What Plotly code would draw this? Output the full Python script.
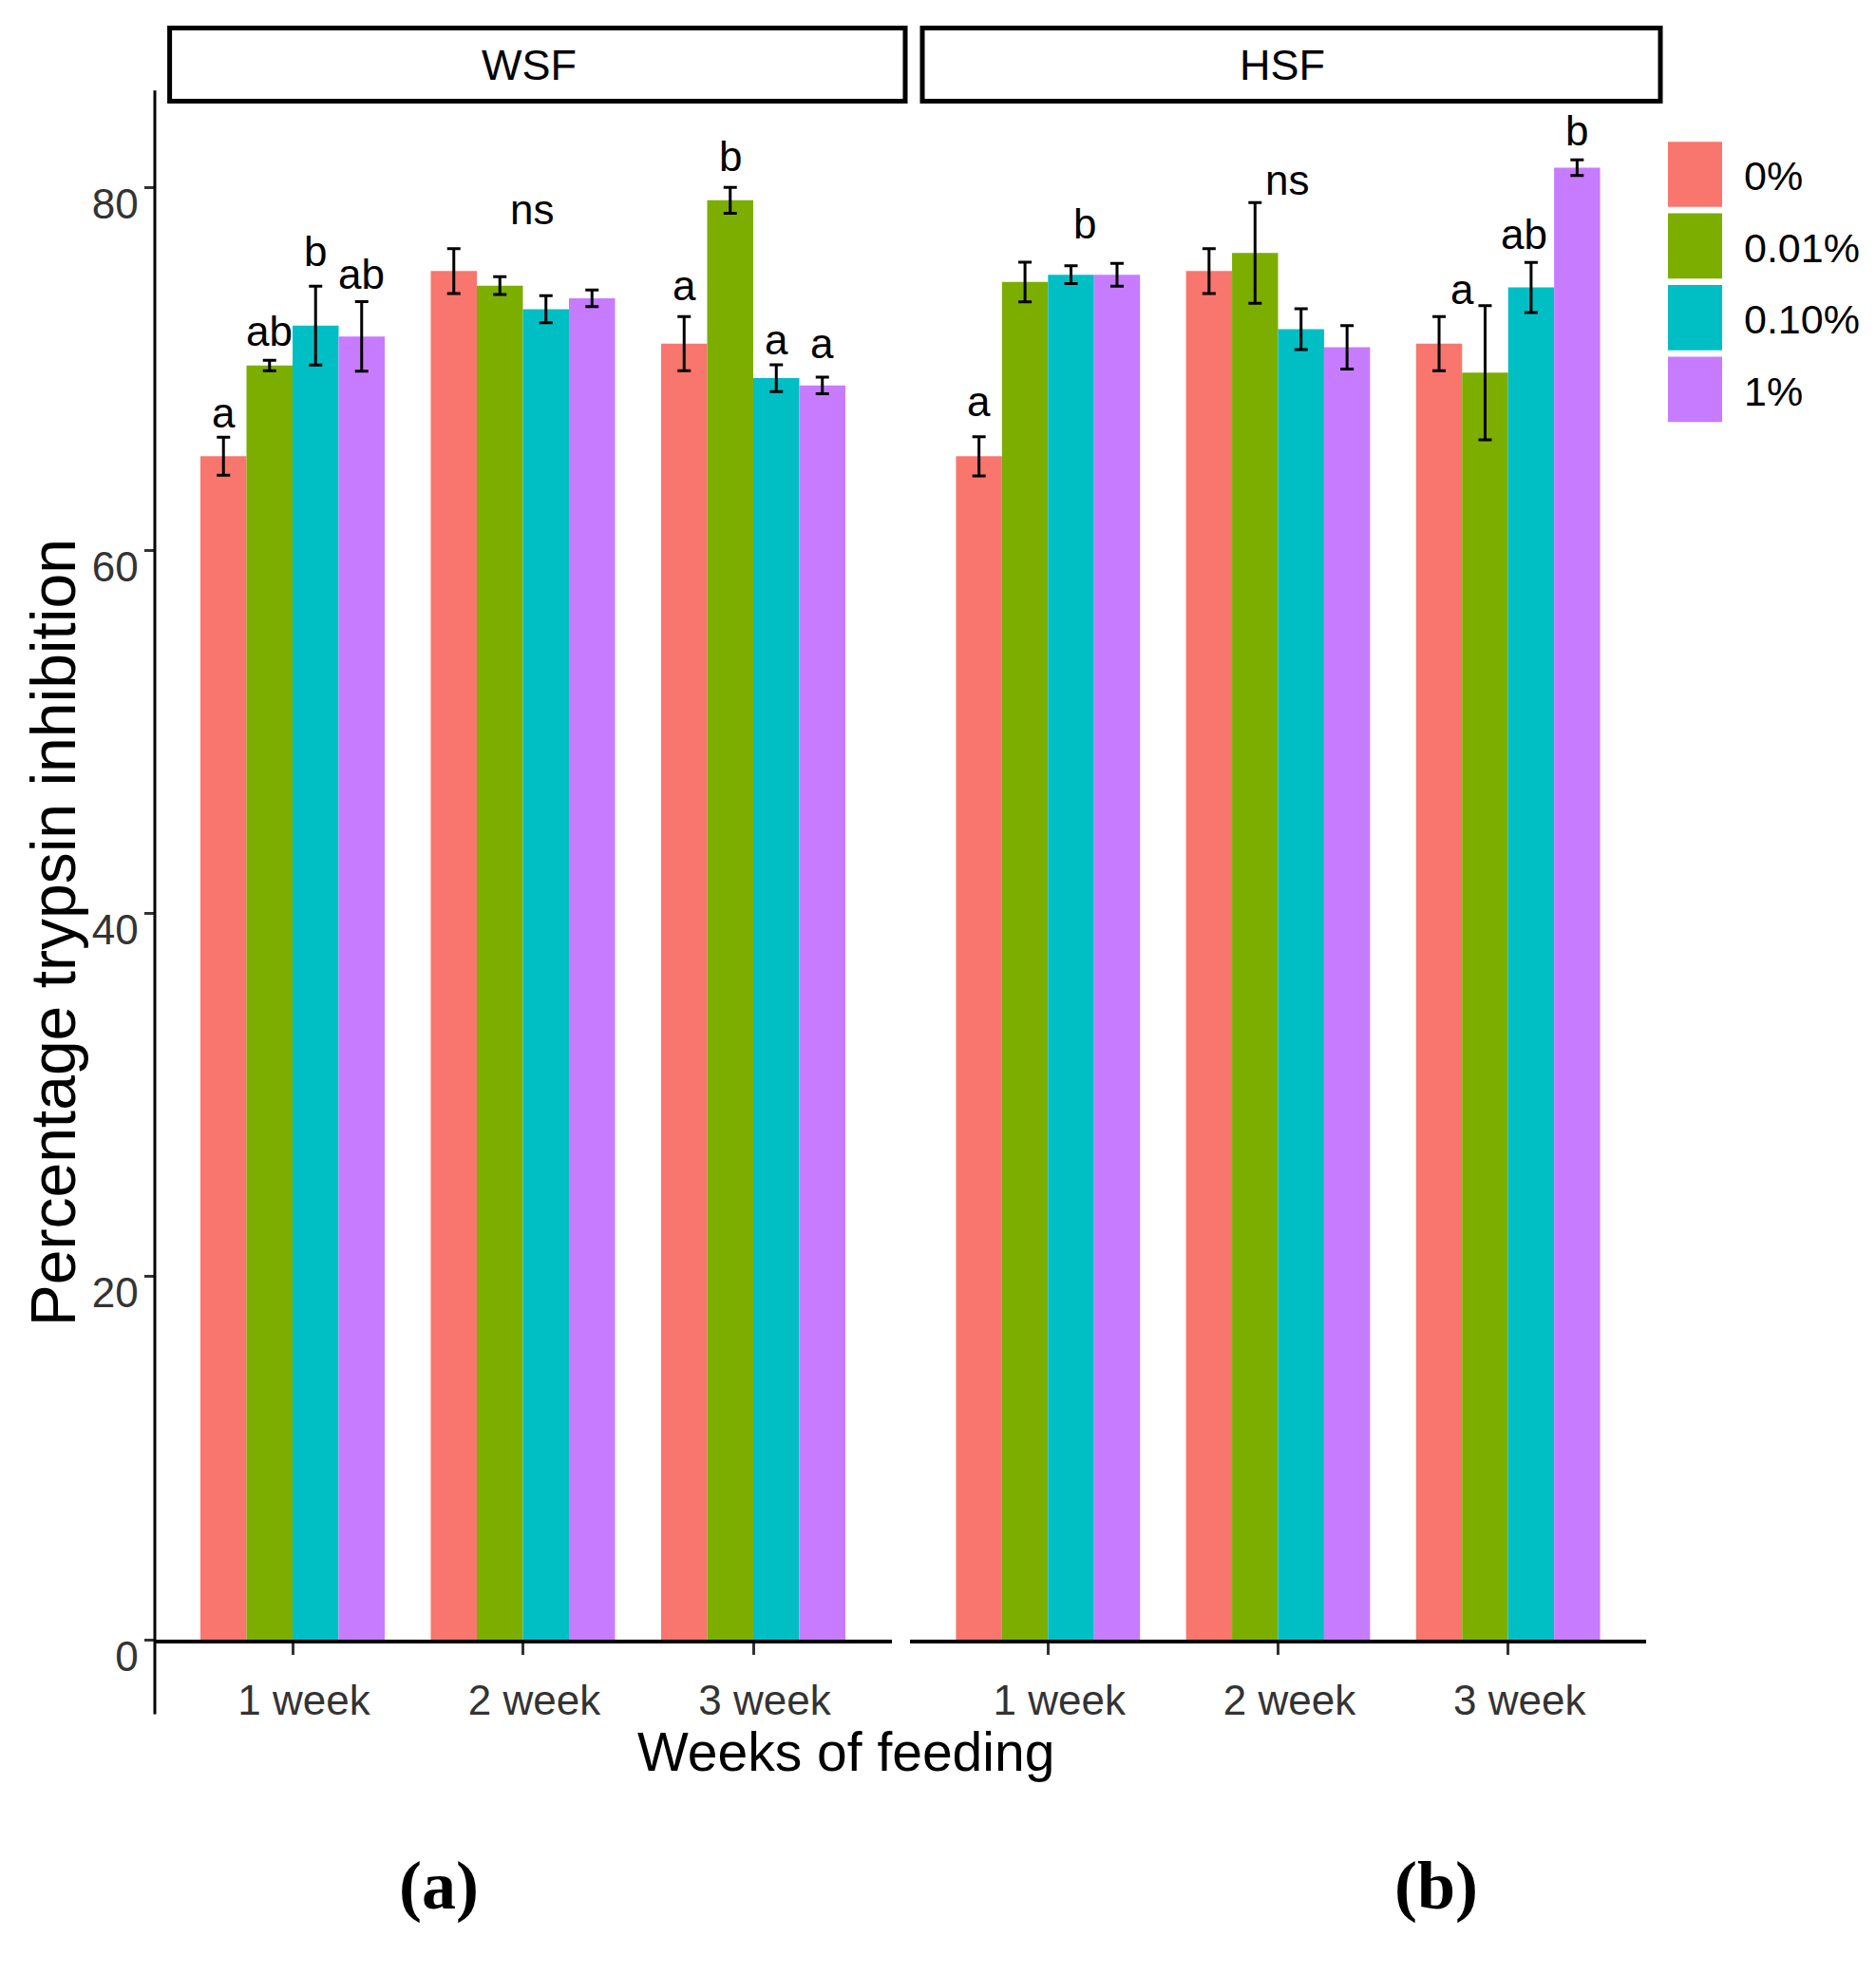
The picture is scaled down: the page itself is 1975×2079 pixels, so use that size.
import plotly.graph_objects as go

# data
weeks = ["1 week", "2 week", "3 week"]
doses = ["0%", "0.01%", "0.10%", "1%"]
colors = ["#F8766D", "#7CAE00", "#00BFC4", "#C77CFF"]

# mean trypsin inhibition, one list per dose (1, 2, 3 week)
wsf_mean = [[65.2, 75.4, 71.4], [70.2, 74.6, 79.3], [72.4, 73.3, 69.5], [71.8, 73.9, 69.1]]
wsf_err = [[1.05, 1.24, 1.49], [0.29, 0.49, 0.71], [2.17, 0.74, 0.74], [1.92, 0.46, 0.46]]
hsf_mean = [[65.2, 75.4, 71.4], [74.8, 76.4, 69.8], [75.2, 72.2, 74.5], [75.2, 71.2, 81.1]]
hsf_err = [[1.08, 1.24, 1.49], [1.09, 2.77, 3.7], [0.49, 1.12, 1.38], [0.63, 1.2, 0.43]]

# significance letters: (week, dose slot, text, height)
wsf_letters = [(1, 0, "a", 66.7), (1, 1, "ab", 71.2), (1, 2, "b", 75.6), (1, 3, "ab", 74.3),
               (2, 1.7, "ns", 77.9),
               (3, 0, "a", 73.7), (3, 1, "b", 80.8), (3, 2, "a", 70.7), (3, 3, "a", 70.5)]
hsf_letters = [(1, 0, "a", 67.3), (1, 2.3, "b", 77.1),
               (2, 1.7, "ns", 79.5),
               (3, 0.5, "a", 73.5), (3, 1.85, "ab", 76.5), (3, 3, "b", 82.2)]

# page body has an 8px margin, so the figure is a bit smaller and shifted
PAD = 8
W, H = 1975 - 2 * PAD, 2079 - 2 * PAD
SANS = "Liberation Sans, Arial, sans-serif"
BW = 0.2


def px(v):
    return (v - PAD) / W


def py(v):
    return 1 - (v - PAD) / H


fig = go.Figure()

for means, errs, xa, ya in [(wsf_mean, wsf_err, "x", "y"), (hsf_mean, hsf_err, "x2", "y2")]:
    for i, d in enumerate(doses):
        xs = [k + 1 + (i - 1.5) * BW for k in range(len(weeks))]
        fig.add_trace(go.Bar(
            x=xs, y=means[i], width=BW, name=d, marker_color=colors[i],
            marker_line_width=0, showlegend=False, xaxis=xa, yaxis=ya,
            error_y=dict(type="data", array=errs[i], color="black",
                         thickness=3, width=7),
        ))

for letters, xr, yr in [(wsf_letters, "x", "y"), (hsf_letters, "x2", "y2")]:
    for wk, slot, txt, yv in letters:
        fig.add_annotation(x=wk + (slot - 1.5) * BW, y=yv, xref=xr, yref=yr,
                           text=txt, showarrow=False, xanchor="center", yanchor="bottom",
                           yshift=-9, font=dict(family=SANS, size=44, color="black"))

xcommon = dict(range=[0.4, 3.6], tickvals=[1, 2, 3], ticktext=weeks,
               showline=True, linecolor="black", linewidth=4,
               ticks="outside", ticklen=12, tickwidth=2.5, tickcolor="#333333",
               ticklabelstandoff=10, ticklabelshift=12,
               tickfont=dict(family=SANS, size=44, color="#333333"),
               showgrid=False, zeroline=False, fixedrange=True)

fig.update_layout(
    width=W, height=H,
    margin=dict(l=0, r=0, t=0, b=0),
    plot_bgcolor="white", paper_bgcolor="white",
    showlegend=False, barmode="overlay",
    xaxis=dict(domain=[px(162.5), px(938.5)], anchor="y", **xcommon),
    xaxis2=dict(domain=[px(958), px(1733)], anchor="y2", **xcommon),
    yaxis=dict(domain=[py(1761), py(97)], range=[0, 85.35], anchor="x",
               tickvals=[0, 20, 40, 60, 80], ticks="outside", ticklen=10,
               tickwidth=2.5, tickcolor="#333333", showline=False,
               ticklabelshift=17, ticklabelstandoff=-3,
               tickfont=dict(family=SANS, size=44, color="#333333"),
               showgrid=False, zeroline=False),
    yaxis2=dict(domain=[py(1761), py(97)], range=[0, 85.35], anchor="x2",
                matches="y", showticklabels=False, ticks="", showline=False,
                showgrid=False, zeroline=False),
)

# y axis line, running a little below zero as in the figure
fig.add_shape(type="line", xref="paper", yref="paper",
              x0=px(163), x1=px(163), y0=py(1841), y1=py(97),
              line=dict(color="black", width=3))

# facet strips
for label, x0, x1, xc in [("WSF", 178.6, 953, 557), ("HSF", 971, 1748, 1350)]:
    fig.add_shape(type="rect", xref="paper", yref="paper",
                  x0=px(x0), x1=px(x1), y0=py(108.5), y1=py(30),
                  line=dict(color="black", width=5), fillcolor="white")
    fig.add_annotation(x=px(xc), y=py(70), xref="paper", yref="paper", text=label,
                       showarrow=False, xanchor="center", yanchor="middle",
                       font=dict(family=SANS, size=45, color="black"))

# legend drawn by hand to get the large ggplot keys
for i, d in enumerate(doses):
    top = 152 + i * 77
    fig.add_shape(type="rect", xref="paper", yref="paper",
                  x0=px(1756), x1=px(1813), y0=py(top + 70), y1=py(top),
                  line_width=0, fillcolor=colors[i])
    fig.add_annotation(x=px(1834), y=py(top + 37), xref="paper", yref="paper",
                       text=d, showarrow=False, xanchor="left", yanchor="middle",
                       font=dict(family=SANS, size=43, color="black"))

# axis titles and panel tags
fig.add_annotation(x=px(890), y=py(1881), xref="paper", yref="paper",
                   text="Weeks of feeding", showarrow=False,
                   xanchor="center", yanchor="middle",
                   font=dict(family=SANS, size=57, color="black"))
fig.add_annotation(x=px(56), y=py(1002), xref="paper", yref="paper",
                   text="Percentage trypsin inhibition", showarrow=False, textangle=-90,
                   xanchor="center", yanchor="middle",
                   font=dict(family=SANS, size=66, color="black"))
for tag, xc in [("(a)", 462), ("(b)", 1512)]:
    fig.add_annotation(x=px(xc), y=py(2025), xref="paper", yref="paper",
                       text="<b>" + tag + "</b>", showarrow=False,
                       xanchor="center", yanchor="middle",
                       font=dict(family="Liberation Serif, Times New Roman, serif",
                                 size=72, color="black"))

fig.write_html("out.html")
